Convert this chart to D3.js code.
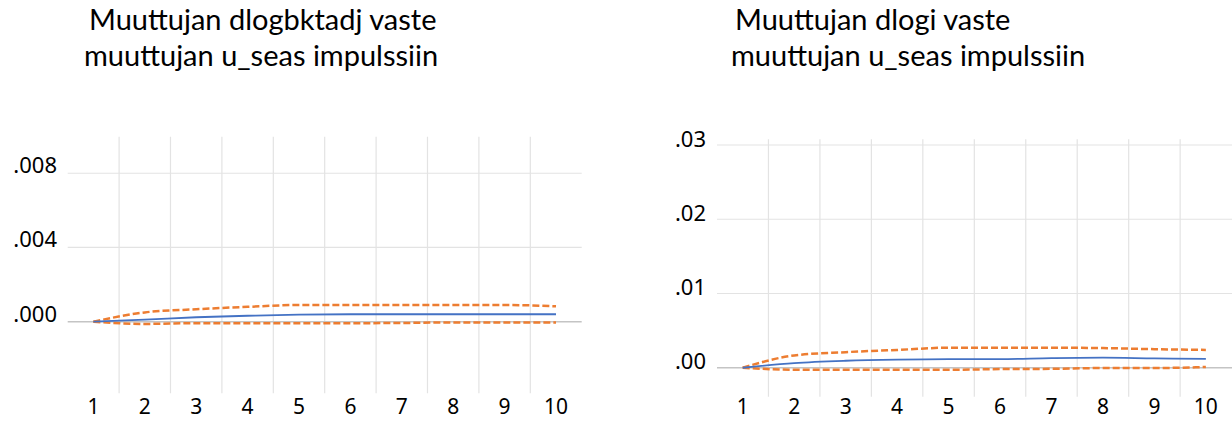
<!DOCTYPE html>
<html><head><meta charset="utf-8">
<script src="https://cdn.jsdelivr.net/npm/d3@7"></script>
<style>
html,body{margin:0;padding:0;background:#fff;}
svg{display:block;}
</style></head>
<body>
<svg id="chart" width="1232" height="421"></svg>
<script>
// ---- data ----
const periods = ["1","2","3","4","5","6","7","8","9","10"];

const leftTitle = ["Muuttujan dlogbktadj vaste", "muuttujan u_seas impulssiin"];
const leftTicks = [0, 0.004, 0.008];
const leftTickLabels = [".000", ".004", ".008"];
const leftResponse = [0, 0.00011, 0.00024, 0.00032, 0.00038, 0.0004, 0.0004, 0.0004, 0.0004, 0.0004];
const leftUpper    = [0, 0.0005, 0.00067, 0.0008, 0.0009, 0.0009, 0.0009, 0.0009, 0.0009, 0.00083];
const leftLower    = [0, -0.00012, -0.00008, -0.00008, -0.00008, -0.00008, -0.00007, -0.00004, -0.00004, -0.00004];

const rightTitle = ["Muuttujan dlogi vaste", "muuttujan u_seas impulssiin"];
const rightTicks = [0, 0.01, 0.02, 0.03];
const rightTickLabels = [".00", ".01", ".02", ".03"];
const rightResponse = [0, 0.00063, 0.00094, 0.0011, 0.00117, 0.00117, 0.0013, 0.00135, 0.00126, 0.0012];
const rightUpper    = [0, 0.00166, 0.0021, 0.0024, 0.0027, 0.0027, 0.0027, 0.00265, 0.0025, 0.0024];
const rightLower    = [0, -0.00027, -0.00027, -0.00027, -0.00027, -0.00018, -0.00015, -0.00004, -0.00004, 0.0001];

// ---- drawing ----
const svg = d3.select("#chart");

function panel(cfg) {
  const g = svg.append("g");
  const x = d3.scaleBand().domain(periods).range([cfg.x0, cfg.x1]);
  const y = d3.scaleLinear().domain(cfg.domain).range([cfg.yBottom, cfg.yTop]);

  // title
  cfg.title.forEach((t, i) => {
    g.append("text")
      .attr("x", cfg.titleX[i]).attr("y", cfg.titleY[i])
      .attr("font-family", "Lato, 'Open Sans', sans-serif")
      .attr("font-size", 29)
      .attr("fill", "#000")
      .text(t);
  });

  // vertical gridlines between categories
  g.append("g").selectAll("line")
    .data(periods.slice(1))
    .join("line")
    .attr("x1", d => x(d)).attr("x2", d => x(d))
    .attr("y1", cfg.yTop).attr("y2", cfg.yBottom)
    .attr("stroke", "#e3e3e3").attr("stroke-width", 1.2);

  // horizontal gridlines
  g.append("g").selectAll("line")
    .data(cfg.ticks)
    .join("line")
    .attr("x1", cfg.x0).attr("x2", cfg.gridEnd)
    .attr("y1", d => y(d)).attr("y2", d => y(d))
    .attr("stroke", d => d === 0 ? "#c4c4c4" : "#e3e3e3")
    .attr("stroke-width", d => d === 0 ? 1.6 : 1.2);

  // y tick labels
  g.append("g").selectAll("text")
    .data(cfg.ticks)
    .join("text")
    .attr("x", cfg.labelX)
    .attr("y", d => y(d) + cfg.labelDy)
    .attr("text-anchor", "end")
    .attr("font-family", "'Noto Sans', 'Open Sans', sans-serif")
    .attr("font-size", 22)
    .attr("fill", "#000")
    .text((d, i) => cfg.tickLabels[i]);

  // x tick labels
  g.append("g").selectAll("text")
    .data(periods)
    .join("text")
    .attr("x", d => x(d) + x.bandwidth() / 2)
    .attr("y", cfg.xLabelY)
    .attr("text-anchor", "middle")
    .attr("font-family", "'Noto Sans', 'Open Sans', sans-serif")
    .attr("font-size", 21)
    .attr("fill", "#000")
    .text(d => d);

  const line = d3.line()
    .x((d, i) => x(periods[i]) + x.bandwidth() / 2)
    .y(d => y(d))
    .curve(d3.curveMonotoneX);

  [cfg.upper, cfg.lower].forEach(s => {
    g.append("path").datum(s)
      .attr("d", line)
      .attr("fill", "none")
      .attr("stroke", "#ED7D31")
      .attr("stroke-width", 2.5)
      .attr("stroke-dasharray", "7 3");
  });
  g.append("path").datum(cfg.response)
    .attr("d", line)
    .attr("fill", "none")
    .attr("stroke", "#4472C4")
    .attr("stroke-width", 1.8);
}

panel({
  title: leftTitle, titleX: [89, 84], titleY: [30, 66],
  x0: 67.7, x1: 581.7, gridEnd: 581.7,
  domain: [-0.00386, 0.00997], yBottom: 393.3, yTop: 136.7,
  ticks: leftTicks, tickLabels: leftTickLabels,
  labelX: 57, labelDy: 0, xLabelY: 414,
  response: leftResponse, upper: leftUpper, lower: leftLower
});

panel({
  title: rightTitle, titleX: [735, 731], titleY: [30, 66],
  x0: 717, x1: 1231.6, gridEnd: 1232,
  domain: [-0.0039, 0.03077], yBottom: 396.7, yTop: 139.3,
  ticks: rightTicks, tickLabels: rightTickLabels,
  labelX: 706, labelDy: 1.5, xLabelY: 414,
  response: rightResponse, upper: rightUpper, lower: rightLower
});
</script>
</body></html>
